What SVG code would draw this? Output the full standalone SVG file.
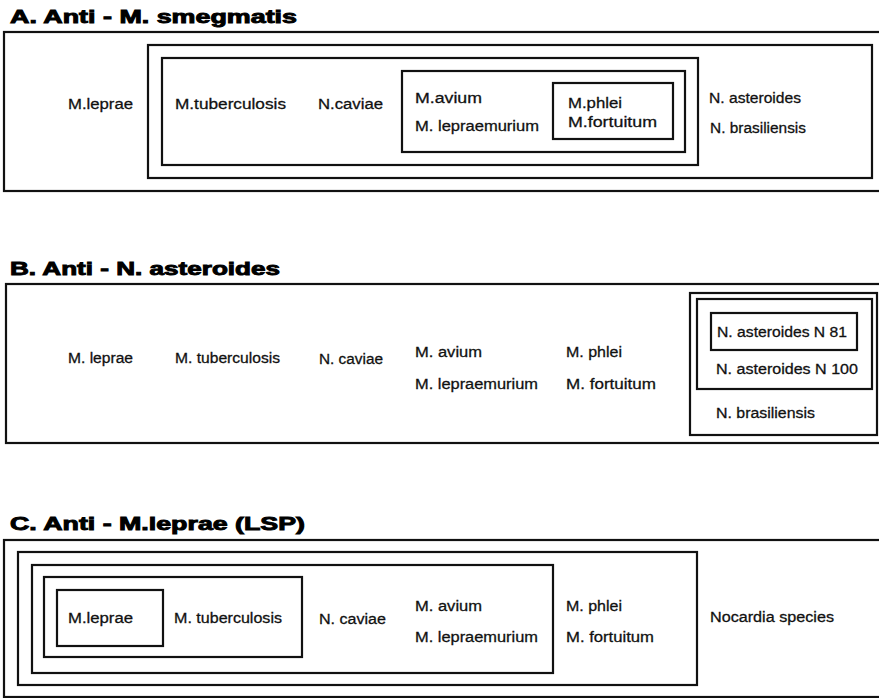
<svg xmlns="http://www.w3.org/2000/svg" width="879" height="698" viewBox="0 0 879 698">
<style>
.bx{fill:none;stroke:#111;stroke-width:2.2}
.t{font-family:"Liberation Sans",Arial,sans-serif;font-size:15.5px;fill:#111;stroke:#111;stroke-width:0.3}
.h{font-family:"Liberation Sans",Arial,sans-serif;font-size:18px;font-weight:900;fill:#000;stroke:#000;stroke-width:0.9}
</style>
<rect width="879" height="698" fill="#fff"/>
<g id="panelA">
<text class="h" x="10" y="23" textLength="287" lengthAdjust="spacingAndGlyphs">A. Anti - M. smegmatis</text>
<g id="A-outer"><rect class="bx" x="4" y="32" width="882" height="159"/>
<text class="t" x="68" y="109" textLength="65" lengthAdjust="spacingAndGlyphs">M.leprae</text></g>
<g id="A-box2"><rect class="bx" x="148" y="45" width="724" height="133"/>
<text class="t" x="709" y="103" textLength="92" lengthAdjust="spacingAndGlyphs">N. asteroides</text>
<text class="t" x="710" y="133" textLength="96" lengthAdjust="spacingAndGlyphs">N. brasiliensis</text></g>
<g id="A-box3"><rect class="bx" x="162" y="58" width="536" height="107"/>
<text class="t" x="175" y="109" textLength="111" lengthAdjust="spacingAndGlyphs">M.tuberculosis</text>
<text class="t" x="318" y="109" textLength="65" lengthAdjust="spacingAndGlyphs">N.caviae</text></g>
<g id="A-box4"><rect class="bx" x="402" y="71" width="283" height="81"/>
<text class="t" x="415" y="103" textLength="67" lengthAdjust="spacingAndGlyphs">M.avium</text>
<text class="t" x="415" y="131" textLength="124" lengthAdjust="spacingAndGlyphs">M. lepraemurium</text></g>
<g id="A-box5"><rect class="bx" x="553" y="83" width="120" height="56"/>
<text class="t" x="568" y="108" textLength="54" lengthAdjust="spacingAndGlyphs">M.phlei</text>
<text class="t" x="568" y="127" textLength="89" lengthAdjust="spacingAndGlyphs">M.fortuitum</text></g>
</g>
<g id="panelB">
<text class="h" x="10" y="275" textLength="270" lengthAdjust="spacingAndGlyphs">B. Anti - N. asteroides</text>
<g id="B-outer"><rect class="bx" x="6" y="284" width="880" height="159"/>
<text class="t" x="68" y="363" textLength="65" lengthAdjust="spacingAndGlyphs">M. leprae</text>
<text class="t" x="175" y="363" textLength="105" lengthAdjust="spacingAndGlyphs">M. tuberculosis</text>
<text class="t" x="319" y="364" textLength="64" lengthAdjust="spacingAndGlyphs">N. caviae</text>
<text class="t" x="415" y="357" textLength="67" lengthAdjust="spacingAndGlyphs">M. avium</text>
<text class="t" x="415" y="389" textLength="123" lengthAdjust="spacingAndGlyphs">M. lepraemurium</text>
<text class="t" x="566" y="357" textLength="56" lengthAdjust="spacingAndGlyphs">M. phlei</text>
<text class="t" x="566" y="389" textLength="90" lengthAdjust="spacingAndGlyphs">M. fortuitum</text></g>
<g id="B-box2"><rect class="bx" x="690" y="293" width="187" height="142"/>
<text class="t" x="716" y="418" textLength="99" lengthAdjust="spacingAndGlyphs">N. brasiliensis</text></g>
<g id="B-box3"><rect class="bx" x="697" y="299" width="175" height="90"/>
<text class="t" x="716" y="374" textLength="142" lengthAdjust="spacingAndGlyphs">N. asteroides N 100</text></g>
<g id="B-box4"><rect class="bx" x="711" y="313" width="146" height="37"/>
<text class="t" x="717" y="337" textLength="130" lengthAdjust="spacingAndGlyphs">N. asteroides N 81</text></g>
</g>
<g id="panelC">
<text class="h" x="10" y="530" textLength="295" lengthAdjust="spacingAndGlyphs">C. Anti - M.leprae (LSP)</text>
<g id="C-outer"><rect class="bx" x="4" y="540" width="882" height="157"/>
<text class="t" x="710" y="622" textLength="124" lengthAdjust="spacingAndGlyphs">Nocardia species</text></g>
<g id="C-box2"><rect class="bx" x="18" y="552" width="679" height="133"/>
<text class="t" x="566" y="611" textLength="56" lengthAdjust="spacingAndGlyphs">M. phlei</text>
<text class="t" x="566" y="642" textLength="88" lengthAdjust="spacingAndGlyphs">M. fortuitum</text></g>
<g id="C-box3"><rect class="bx" x="32" y="565" width="521" height="108"/>
<text class="t" x="319" y="624" textLength="67" lengthAdjust="spacingAndGlyphs">N. caviae</text>
<text class="t" x="415" y="611" textLength="67" lengthAdjust="spacingAndGlyphs">M. avium</text>
<text class="t" x="415" y="642" textLength="123" lengthAdjust="spacingAndGlyphs">M. lepraemurium</text></g>
<g id="C-box4"><rect class="bx" x="44" y="577" width="258" height="80"/>
<text class="t" x="174" y="623" textLength="108" lengthAdjust="spacingAndGlyphs">M. tuberculosis</text></g>
<g id="C-box5"><rect class="bx" x="57" y="590" width="106" height="56"/>
<text class="t" x="68" y="623" textLength="65" lengthAdjust="spacingAndGlyphs">M.leprae</text></g>
</g>
<g id="connectors"/>
</svg>
